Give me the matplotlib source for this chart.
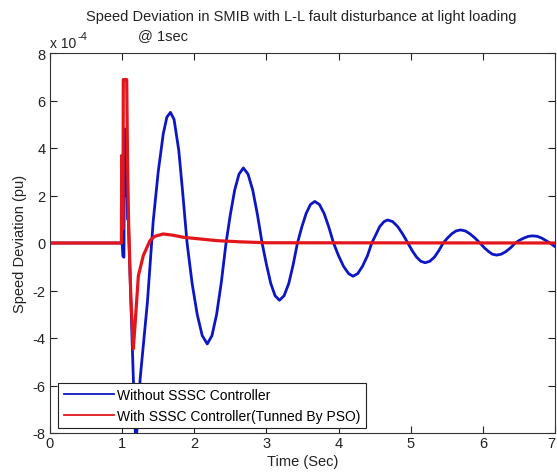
import numpy as np
import matplotlib.pyplot as plt
from matplotlib.lines import Line2D

# ==============================
# DATA (speed deviation, in units of 1e-4 pu)
# ==============================

t_without = [0.0, 0.99, 1.0, 1.01, 1.025, 1.03, 1.04, 1.05, 1.06, 1.075,
             1.085, 1.155, 1.19, 1.25, 1.35, 1.43, 1.50, 1.57, 1.62, 1.67,
             1.72, 1.785, 1.84, 1.90, 1.97, 2.04, 2.11, 2.18, 2.245, 2.31,
             2.375, 2.44, 2.50, 2.56, 2.62, 2.68, 2.745, 2.81, 2.875, 2.94,
             3.00, 3.06, 3.12, 3.18, 3.245, 3.31, 3.37, 3.43, 3.49, 3.55,
             3.61, 3.67, 3.735, 3.80, 3.865, 3.93, 4.00, 4.07, 4.14, 4.20,
             4.265, 4.33, 4.40, 4.46, 4.52, 4.57, 4.63, 4.68, 4.75, 4.82,
             4.89, 4.96, 5.02, 5.08, 5.14, 5.20, 5.265, 5.33, 5.39, 5.45,
             5.51, 5.57, 5.63, 5.69, 5.755, 5.82, 5.89, 5.96, 6.02, 6.08,
             6.13, 6.19, 6.255, 6.32, 6.385, 6.45, 6.51, 6.57, 6.63, 6.69,
             6.755, 6.82, 6.93, 7.0]
dw_without = [0.0, 0.0, 0.0, -0.55, -0.6, 3.0, 4.8, 2.0, 4.2, 1.0,
              1.0, -5.7, -8.6, -5.7, -2.5, 0.9, 3.0, 4.6, 5.3, 5.5,
              5.2, 3.9, 2.1, 0.0, -1.7, -3.0, -3.9, -4.25, -3.9, -3.0,
              -1.65, 0.0, 1.2, 2.23, 2.9, 3.16, 2.9, 2.23, 1.2, 0.0,
              -0.9, -1.7, -2.22, -2.41, -2.22, -1.7, -0.92, 0.0, 0.67, 1.24,
              1.62, 1.75, 1.62, 1.24, 0.67, 0.0, -0.54, -0.99, -1.29, -1.40,
              -1.29, -0.99, -0.54, 0.0, 0.37, 0.69, 0.9, 0.97, 0.9, 0.69,
              0.37, 0.0, -0.32, -0.59, -0.77, -0.83, -0.77, -0.59, -0.32, 0.0,
              0.21, 0.39, 0.51, 0.55, 0.51, 0.39, 0.21, 0.0, -0.2, -0.36,
              -0.47, -0.51, -0.47, -0.36, -0.2, 0.0, 0.12, 0.21, 0.28, 0.30,
              0.28, 0.2, 0.0, -0.15]

t_with = [0.0, 0.99, 0.994, 1.0, 1.012, 1.016, 1.063, 1.075, 1.09, 1.12,
          1.155, 1.178, 1.225, 1.293, 1.386, 1.45, 1.57, 1.70, 1.85, 2.08,
          2.31, 2.63, 3.0, 7.0]
dw_with = [0.0, 0.0, 3.68, 0.6, 0.6, 6.88, 6.88, 3.4, 0.8, -2.2,
           -4.46, -3.48, -1.38, -0.53, 0.1, 0.28, 0.38, 0.33, 0.24, 0.17,
           0.1, 0.05, 0.01, 0.0]

labels = ["Without SSSC Controller", "With SSSC Controller(Tunned By PSO)"]
blue = "#0d16c4"
red = "#e3161b"
ink = "#222222"

# ==============================
# PLOT
# ==============================

plt.rcParams["font.family"] = ["Liberation Sans", "DejaVu Sans"]
plt.rcParams["font.size"] = 10.5
plt.rcParams["axes.unicode_minus"] = False

fig = plt.figure(figsize=(5.57, 4.77), dpi=100)
ax = fig.add_axes([50 / 557, 1 - 434 / 477, 505 / 557, 380 / 477])

ax.plot(t_without, dw_without, color=blue, linewidth=2.0)
ax.plot(t_with, dw_with, color=red, linewidth=2.3)

ax.set_xlim(0, 7)
ax.set_ylim(-8, 8)
ax.set_xticks(np.arange(0, 8, 1))
ax.set_yticks(np.arange(-8, 9, 2))
ax.tick_params(direction="in", top=True, right=True, length=5, width=0.8,
               colors=ink, labelcolor=ink)
ax.tick_params(axis="y", pad=3)
ax.tick_params(axis="x", pad=2)
# last x label sits at the figure edge, keep it inside
ax.get_xticklabels()[-1].set_horizontalalignment("right")
for s in ax.spines.values():
    s.set_color("#333333")
    s.set_linewidth(0.8)

ax.set_xlabel("Time (Sec)", labelpad=3, color=ink)
ax.set_ylabel("Speed Deviation (pu)", labelpad=4, color=ink)

fig.text(301 / 557, 1 - 17 / 477,
         "Speed Deviation in SMIB with L-L fault disturbance at light loading",
         ha="center", va="center", color=ink)
fig.text(163 / 557, 1 - 36 / 477, "@ 1sec", ha="center", va="center",
         color=ink)
fig.text(50 / 557, 1 - 48 / 477, "x 10", ha="left", va="baseline",
         color=ink, fontsize=10)
fig.text(78 / 557, 1 - 40 / 477, "-4", ha="left", va="baseline",
         color=ink, fontsize=8)

handles = [Line2D([], [], color=blue, linewidth=1.3),
           Line2D([], [], color=red, linewidth=1.3)]
leg = ax.legend(handles, labels, loc="lower left", fontsize=10,
                bbox_to_anchor=(0.016, 0.013), borderaxespad=0,
                fancybox=False, framealpha=1, edgecolor=ink,
                handlelength=3.6, handletextpad=0.25, borderpad=0.4,
                labelspacing=0.45)
leg.get_frame().set_linewidth(0.8)

plt.savefig("out.png", dpi=100)
